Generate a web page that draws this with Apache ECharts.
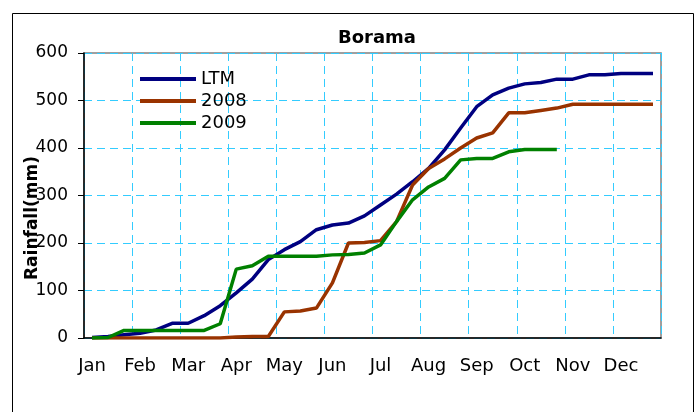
<!DOCTYPE html>
<html>
<head>
<meta charset="utf-8">
<script src="https://cdn.jsdelivr.net/npm/echarts@6/dist/echarts.min.js"></script>
<style>
html,body{margin:0;padding:0;background:#fff;}
#chart{width:699px;height:412px;}
</style>
</head>
<body>
<div id="chart"></div>
<script>
var months = ['Jan','Feb','Mar','Apr','May','Jun','Jul','Aug','Sep','Oct','Nov','Dec'];
var yTicks = [0,100,200,300,400,500,600];
var seriesNames = ['LTM','2008','2009'];
var yAxisTitle = 'Rainfall(mm)';
var ltm = [1,3,7,10,17,31,31,47,68,95,124,165,186,203,228,238,242,257,280,303,329,357,396,442,487,512,526,535,538,545,545,554,554,557,557,557];
var y2008 = [0,0,0,0,0,0,0,0,0,2,3,3,55,57,63,116,200,201,205,245,322,357,377,400,421,432,474,474,479,484,492,492,492,492,492,492];
var y2009 = [0,1,16,16,16,16,16,16,30,145,152,172,172,172,172,175,176,179,196,245,291,318,336,375,378,378,392,397,397,397];

var dekads = [];
months.forEach(function(m){ dekads.push(m, m, m); });

var chart = echarts.init(document.getElementById('chart'), null, {renderer:'canvas'});
var font = 'DejaVu Sans';
var grid = {left:84, right:38, top:53, bottom:74};
chart.setOption({
  animation:false,
  backgroundColor:'#fff',
  textStyle:{fontFamily:font},
  title:{
    text:'Borama', left:372, top:24, textAlign:'center',
    textStyle:{fontFamily:font, fontWeight:'bold', fontSize:18, color:'#000'}
  },
  graphic:[{
    type:'rect', silent:true,
    shape:{x:12.5, y:13.5, width:681, height:430},
    style:{fill:null, stroke:'#000', lineWidth:1}
  },{
    type:'text', silent:true, x:33, y:218, rotation:Math.PI/2, z:100,
    style:{text:yAxisTitle, fill:'#000', font:'bold 17px "DejaVu Sans"', textAlign:'center', textVerticalAlign:'middle'}
  }],
  legend:{
    orient:'vertical', left:140, top:69, padding:0, itemWidth:56, itemHeight:14, itemGap:2,
    icon:'path://M0,5h56v4h-56z',
    textStyle:{fontFamily:font, fontSize:18, color:'#000', lineHeight:20},
    data:seriesNames
  },
  grid:Object.assign({show:true, borderColor:'#808080', borderWidth:1.5, backgroundColor:'#fff'}, grid),
  xAxis:{
    type:'category', data:dekads, boundaryGap:true,
    axisLine:{lineStyle:{color:'#000', width:1.5}},
    axisTick:{interval:2, length:7, lineStyle:{color:'#000'}},
    axisLabel:{interval:2, margin:19, fontFamily:font, fontSize:18, color:'#000'},
    splitLine:{show:true, interval:2, lineStyle:{color:'#33ccff', type:[8,5], width:1}}
  },
  yAxis:{
    type:'value', min:yTicks[0], max:yTicks[yTicks.length-1], interval:100,
    axisLine:{show:true, lineStyle:{color:'#000', width:1.5}},
    axisTick:{show:true, length:6, lineStyle:{color:'#000'}},
    axisLabel:{margin:16, fontFamily:font, fontSize:17, color:'#000'},
    splitLine:{show:true, lineStyle:{color:'#33ccff', type:[8,5], width:1}}
  },
  series:[
    {name:seriesNames[0], type:'line', data:ltm, symbol:'none', lineStyle:{color:'#000080', width:3.5}, itemStyle:{color:'#000080'}, z:3},
    {name:seriesNames[1], type:'line', data:y2008, symbol:'none', lineStyle:{color:'#993300', width:3.5}, itemStyle:{color:'#993300'}, z:4},
    {name:seriesNames[2], type:'line', data:y2009, symbol:'none', lineStyle:{color:'#008000', width:3.5}, itemStyle:{color:'#008000'}, z:5}
  ]
});
</script>
</body>
</html>
